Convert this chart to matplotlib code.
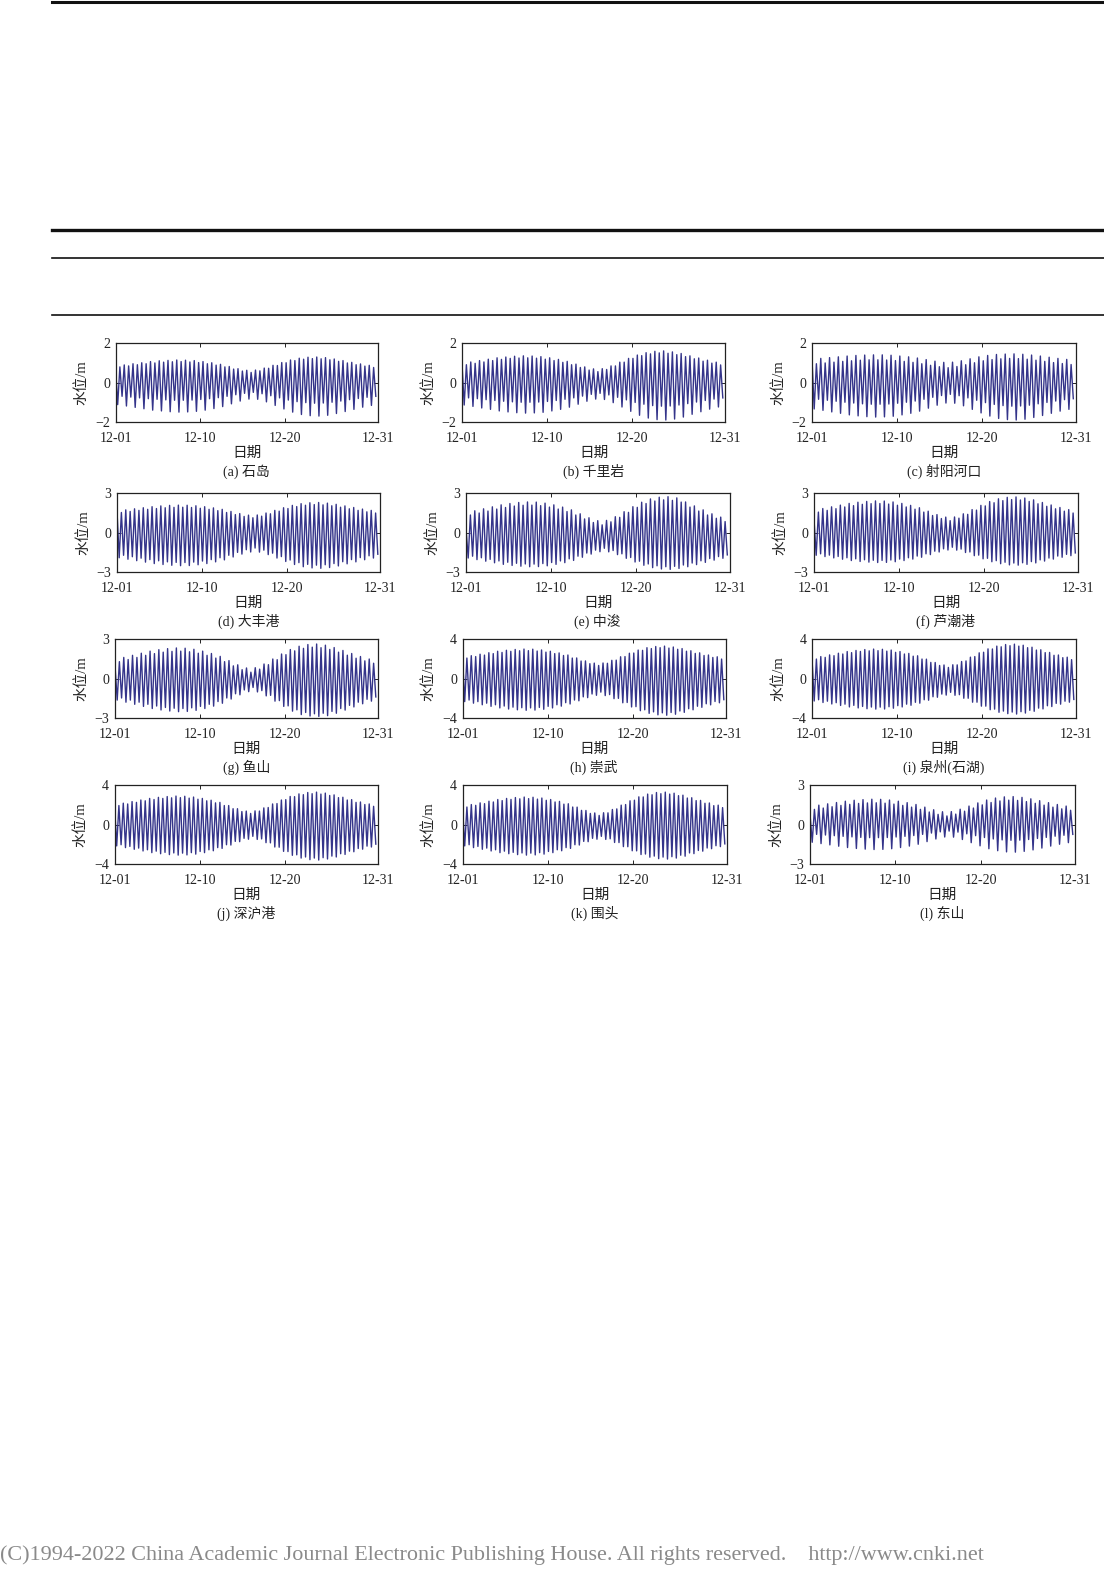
import numpy as np
import matplotlib
matplotlib.use("Agg")
import matplotlib.pyplot as plt
from matplotlib.lines import Line2D

plt.rcParams['font.family'] = ['Liberation Serif', 'Noto Sans CJK SC', 'DejaVu Sans']
plt.rcParams['axes.unicode_minus'] = True

# ---------------- data: successive high / low waters (m), Dec 1-31 ----------------
date_ticks = [0, 10, 20, 31]
date_labels = ['12-01', '12-10', '12-20', '12-31']
n_days = 31

hi_a = [0.84,0.79,0.89,0.84,0.95,0.90,1.00,0.95,1.06,0.99,
        1.10,1.03,1.12,1.05,1.14,1.06,1.13,1.04,1.11,1.01,
        1.06,0.95,1.00,0.88,0.92,0.79,0.81,0.68,0.70,0.58,
        0.62,0.51,0.63,0.59,0.73,0.72,0.87,0.86,1.01,1.00,
        1.14,1.11,1.23,1.18,1.28,1.21,1.29,1.20,1.26,1.15,
        1.19,1.07,1.11,0.99,1.02,0.90,0.94,0.83,0.87,0.76]
lo_a = [-1.12,-0.70,-1.19,-0.74,-1.26,-0.78,-1.33,-0.82,-1.40,-0.85,
        -1.44,-0.88,-1.48,-0.90,-1.50,-0.90,-1.49,-0.89,-1.46,-0.86,
        -1.40,-0.82,-1.32,-0.77,-1.22,-0.70,-1.08,-0.62,-0.94,-0.55,
        -0.84,-0.50,-0.85,-0.57,-0.98,-0.67,-1.16,-0.78,-1.34,-0.89,
        -1.50,-0.97,-1.62,-1.02,-1.68,-1.05,-1.70,-1.04,-1.66,-1.00,
        -1.57,-0.94,-1.47,-0.87,-1.36,-0.81,-1.25,-0.75,-1.16,-0.70]

hi_b = [0.97,0.90,1.04,0.97,1.11,1.04,1.18,1.11,1.25,1.17,
        1.29,1.22,1.33,1.24,1.35,1.25,1.34,1.23,1.31,1.18,
        1.25,1.11,1.17,1.02,1.07,0.90,0.93,0.76,0.79,0.63,
        0.69,0.55,0.70,0.66,0.84,0.84,1.03,1.03,1.22,1.22,
        1.39,1.36,1.51,1.45,1.58,1.50,1.60,1.48,1.55,1.41,
        1.47,1.31,1.35,1.20,1.24,1.08,1.13,0.98,1.03,0.89]
lo_b = [-1.14,-0.78,-1.21,-0.82,-1.29,-0.87,-1.36,-0.91,-1.44,-0.95,
        -1.49,-0.98,-1.53,-1.00,-1.55,-1.00,-1.54,-0.99,-1.51,-0.96,
        -1.44,-0.91,-1.36,-0.85,-1.25,-0.78,-1.10,-0.69,-0.95,-0.60,
        -0.84,-0.55,-0.86,-0.63,-1.02,-0.75,-1.24,-0.88,-1.46,-1.01,
        -1.66,-1.10,-1.80,-1.17,-1.88,-1.20,-1.90,-1.19,-1.85,-1.14,
        -1.75,-1.07,-1.61,-0.99,-1.48,-0.91,-1.35,-0.84,-1.24,-0.78]

hi_c = [1.18,0.95,1.22,0.99,1.26,1.03,1.30,1.07,1.34,1.10,
        1.37,1.13,1.39,1.15,1.40,1.15,1.40,1.14,1.38,1.11,
        1.34,1.07,1.30,1.02,1.24,0.95,1.16,0.87,1.08,0.80,
        1.02,0.75,1.03,0.81,1.10,0.90,1.20,1.00,1.30,1.10,
        1.37,1.16,1.42,1.20,1.44,1.22,1.45,1.21,1.43,1.18,
        1.39,1.13,1.34,1.07,1.28,1.01,1.22,0.96,1.17,0.91]
lo_c = [-1.34,-0.85,-1.41,-0.90,-1.49,-0.95,-1.56,-1.00,-1.64,-1.04,
        -1.69,-1.08,-1.73,-1.10,-1.75,-1.10,-1.74,-1.09,-1.71,-1.05,
        -1.64,-1.00,-1.56,-0.94,-1.45,-0.85,-1.30,-0.75,-1.15,-0.66,
        -1.04,-0.60,-1.05,-0.67,-1.18,-0.78,-1.36,-0.90,-1.54,-1.02,
        -1.70,-1.11,-1.82,-1.17,-1.88,-1.20,-1.90,-1.19,-1.86,-1.15,
        -1.77,-1.08,-1.67,-1.01,-1.56,-0.94,-1.45,-0.87,-1.36,-0.82]

hi_d = [1.64,1.52,1.72,1.60,1.80,1.68,1.88,1.76,1.96,1.82,
        2.02,1.88,2.06,1.91,2.08,1.92,2.07,1.90,2.03,1.84,
        1.96,1.76,1.87,1.66,1.76,1.52,1.60,1.36,1.44,1.22,
        1.32,1.12,1.33,1.24,1.48,1.42,1.68,1.62,1.88,1.82,
        2.06,1.97,2.19,2.07,2.26,2.12,2.28,2.10,2.23,2.03,
        2.14,1.92,2.02,1.80,1.90,1.68,1.78,1.57,1.68,1.48]
lo_d = [-1.92,-1.73,-2.03,-1.84,-2.14,-1.95,-2.25,-2.06,-2.36,-2.15,
        -2.43,-2.23,-2.49,-2.27,-2.52,-2.28,-2.51,-2.25,-2.45,-2.17,
        -2.36,-2.06,-2.23,-1.92,-2.08,-1.73,-1.86,-1.51,-1.64,-1.31,
        -1.48,-1.18,-1.49,-1.34,-1.68,-1.57,-1.94,-1.83,-2.20,-2.09,
        -2.43,-2.29,-2.60,-2.42,-2.69,-2.48,-2.72,-2.45,-2.66,-2.36,
        -2.54,-2.22,-2.38,-2.06,-2.23,-1.91,-2.07,-1.77,-1.94,-1.65]

hi_e = [0.30,1.33,1.65,1.48,1.80,1.63,1.95,1.78,2.10,1.90,
        2.20,2.01,2.28,2.07,2.32,2.08,2.31,2.04,2.23,1.93,
        2.10,1.78,1.93,1.59,1.72,1.33,1.42,1.03,1.12,0.76,
        0.90,0.58,0.92,0.81,1.20,1.15,1.58,1.53,1.96,1.91,
        2.30,2.20,2.55,2.39,2.68,2.48,2.72,2.44,2.63,2.31,
        2.32,1.93,2.02,1.63,1.72,1.33,1.42,1.08,1.17,0.83]
lo_e = [-1.94,-1.80,-2.06,-1.92,-2.18,-2.04,-2.30,-2.16,-2.42,-2.26,
        -2.50,-2.34,-2.56,-2.39,-2.60,-2.40,-2.59,-2.36,-2.53,-2.28,
        -2.42,-2.16,-2.29,-2.00,-2.12,-1.80,-1.88,-1.56,-1.64,-1.34,
        -1.46,-1.20,-1.47,-1.37,-1.68,-1.62,-1.96,-1.90,-2.24,-2.18,
        -2.49,-2.39,-2.67,-2.53,-2.77,-2.60,-2.80,-2.57,-2.73,-2.47,
        -2.60,-2.32,-2.44,-2.15,-2.27,-1.98,-2.10,-1.83,-1.96,-1.70]

hi_f = [1.00,1.55,1.82,1.68,1.95,1.81,2.08,1.94,2.21,2.04,
        2.30,2.14,2.36,2.19,2.40,2.20,2.39,2.16,2.32,2.07,
        2.21,1.94,2.06,1.77,1.88,1.55,1.62,1.29,1.36,1.06,
        1.17,0.90,1.18,1.09,1.42,1.38,1.74,1.70,2.06,2.02,
        2.35,2.26,2.56,2.42,2.67,2.50,2.70,2.47,2.62,2.36,
        2.48,2.18,2.28,1.99,2.09,1.80,1.90,1.62,1.74,1.48]
lo_f = [-1.73,-1.62,-1.83,-1.72,-1.93,-1.82,-2.03,-1.92,-2.13,-2.00,
        -2.20,-2.07,-2.25,-2.11,-2.28,-2.12,-2.27,-2.09,-2.22,-2.02,
        -2.13,-1.92,-2.02,-1.79,-1.88,-1.62,-1.68,-1.42,-1.48,-1.24,
        -1.33,-1.12,-1.34,-1.26,-1.52,-1.48,-1.76,-1.72,-2.00,-1.96,
        -2.22,-2.14,-2.37,-2.26,-2.46,-2.32,-2.48,-2.30,-2.42,-2.21,
        -2.31,-2.08,-2.17,-1.94,-2.02,-1.79,-1.88,-1.66,-1.76,-1.55]

hi_g = [1.00,1.28,1.60,1.44,1.76,1.60,1.92,1.76,2.08,1.89,
        2.19,2.00,2.27,2.06,2.32,2.08,2.30,2.03,2.22,1.92,
        2.08,1.76,1.90,1.55,1.68,1.28,1.36,0.96,1.04,0.67,
        0.80,0.48,0.82,0.71,1.10,1.05,1.48,1.43,1.86,1.81,
        2.20,2.10,2.45,2.29,2.58,2.38,2.62,2.34,2.53,2.21,
        2.35,2.00,2.13,1.77,1.90,1.54,1.67,1.34,1.48,1.16]
lo_g = [-1.64,-1.48,-1.80,-1.64,-1.96,-1.80,-2.12,-1.96,-2.28,-2.09,
        -2.39,-2.20,-2.47,-2.26,-2.52,-2.28,-2.50,-2.23,-2.42,-2.12,
        -2.28,-1.96,-2.10,-1.75,-1.88,-1.48,-1.56,-1.16,-1.24,-0.87,
        -1.00,-0.68,-1.02,-0.92,-1.32,-1.28,-1.72,-1.68,-2.12,-2.08,
        -2.48,-2.38,-2.74,-2.58,-2.85,-2.68,-2.88,-2.64,-2.82,-2.50,
        -2.64,-2.28,-2.40,-2.04,-2.16,-1.80,-1.92,-1.58,-1.72,-1.40]

hi_h = [2.16,2.07,2.31,2.22,2.46,2.37,2.61,2.52,2.76,2.64,
        2.86,2.75,2.94,2.81,2.98,2.82,2.97,2.78,2.89,2.67,
        2.76,2.52,2.59,2.33,2.38,2.07,2.08,1.77,1.78,1.50,
        1.56,1.32,1.57,1.54,1.84,1.86,2.20,2.22,2.56,2.58,
        2.88,2.85,3.12,3.03,3.24,3.12,3.28,3.08,3.19,2.96,
        3.03,2.76,2.81,2.54,2.60,2.33,2.38,2.13,2.20,1.97]
lo_h = [-2.34,-2.18,-2.50,-2.34,-2.66,-2.50,-2.82,-2.66,-2.98,-2.79,
        -3.09,-2.90,-3.17,-2.96,-3.22,-2.98,-3.20,-2.93,-3.12,-2.82,
        -2.98,-2.66,-2.80,-2.45,-2.58,-2.18,-2.26,-1.86,-1.94,-1.57,
        -1.70,-1.38,-1.73,-1.63,-2.04,-2.01,-2.46,-2.43,-2.88,-2.85,
        -3.26,-3.17,-3.53,-3.38,-3.68,-3.48,-3.72,-3.44,-3.62,-3.29,
        -3.43,-3.06,-3.17,-2.81,-2.92,-2.56,-2.67,-2.33,-2.46,-2.14]

hi_i = [2.05,1.97,2.22,2.14,2.39,2.31,2.56,2.48,2.73,2.62,
        2.84,2.74,2.93,2.80,2.98,2.82,2.96,2.77,2.88,2.65,
        2.73,2.48,2.54,2.26,2.30,1.97,1.96,1.63,1.62,1.32,
        1.37,1.12,1.39,1.38,1.72,1.78,2.16,2.22,2.60,2.66,
        3.00,2.99,3.28,3.21,3.44,3.32,3.48,3.28,3.37,3.12,
        3.17,2.88,2.91,2.62,2.64,2.35,2.38,2.11,2.16,1.91]
lo_i = [-2.28,-2.15,-2.43,-2.30,-2.58,-2.45,-2.73,-2.60,-2.88,-2.72,
        -2.98,-2.83,-3.06,-2.89,-3.10,-2.90,-3.09,-2.86,-3.01,-2.75,
        -2.88,-2.60,-2.71,-2.41,-2.50,-2.15,-2.20,-1.85,-1.90,-1.58,
        -1.68,-1.40,-1.70,-1.64,-2.00,-2.00,-2.40,-2.40,-2.80,-2.80,
        -3.16,-3.10,-3.42,-3.30,-3.56,-3.40,-3.60,-3.36,-3.50,-3.22,
        -3.32,-3.00,-3.08,-2.76,-2.84,-2.52,-2.60,-2.30,-2.40,-2.12]

hi_j = [2.00,1.92,2.16,2.08,2.32,2.24,2.48,2.40,2.64,2.53,
        2.75,2.64,2.83,2.70,2.88,2.72,2.86,2.67,2.78,2.56,
        2.64,2.40,2.46,2.19,2.24,1.92,1.92,1.60,1.60,1.31,
        1.36,1.12,1.38,1.36,1.68,1.72,2.08,2.12,2.48,2.52,
        2.84,2.82,3.10,3.02,3.24,3.12,3.28,3.08,3.18,2.94,
        3.00,2.72,2.76,2.48,2.52,2.24,2.28,2.02,2.08,1.84]
lo_j = [-2.17,-2.05,-2.34,-2.22,-2.51,-2.39,-2.68,-2.56,-2.85,-2.70,
        -2.96,-2.82,-3.05,-2.88,-3.10,-2.90,-3.08,-2.85,-3.00,-2.73,
        -2.85,-2.56,-2.66,-2.34,-2.42,-2.05,-2.08,-1.71,-1.74,-1.40,
        -1.49,-1.20,-1.51,-1.46,-1.84,-1.86,-2.28,-2.30,-2.72,-2.74,
        -3.12,-3.07,-3.40,-3.29,-3.56,-3.40,-3.60,-3.36,-3.49,-3.20,
        -3.29,-2.96,-3.03,-2.70,-2.76,-2.43,-2.50,-2.19,-2.28,-1.99]

hi_k = [1.85,1.77,2.02,1.94,2.19,2.11,2.36,2.28,2.53,2.42,
        2.64,2.54,2.73,2.60,2.78,2.62,2.76,2.57,2.68,2.45,
        2.53,2.28,2.34,2.06,2.10,1.77,1.76,1.43,1.42,1.12,
        1.17,0.92,1.19,1.18,1.52,1.58,1.96,2.02,2.40,2.46,
        2.80,2.79,3.08,3.01,3.24,3.12,3.28,3.08,3.17,2.92,
        2.97,2.68,2.71,2.42,2.44,2.15,2.18,1.91,1.96,1.71]
lo_k = [-2.17,-2.05,-2.34,-2.22,-2.51,-2.39,-2.68,-2.56,-2.85,-2.70,
        -2.96,-2.82,-3.05,-2.88,-3.10,-2.90,-3.08,-2.85,-3.00,-2.73,
        -2.85,-2.56,-2.66,-2.34,-2.42,-2.05,-2.08,-1.71,-1.74,-1.40,
        -1.49,-1.20,-1.51,-1.45,-1.82,-1.83,-2.24,-2.25,-2.66,-2.67,
        -3.04,-2.99,-3.31,-3.20,-3.46,-3.30,-3.50,-3.26,-3.40,-3.11,
        -3.21,-2.88,-2.95,-2.63,-2.70,-2.38,-2.45,-2.15,-2.24,-1.96]

hi_l = [0.80,1.15,1.47,1.25,1.57,1.35,1.67,1.45,1.77,1.53,
        1.84,1.60,1.89,1.64,1.92,1.65,1.91,1.62,1.86,1.55,
        1.77,1.45,1.66,1.32,1.52,1.15,1.32,0.95,1.12,0.77,
        0.97,0.65,0.98,0.79,1.16,1.01,1.40,1.25,1.64,1.49,
        1.86,1.67,2.01,1.79,2.10,1.85,2.12,1.83,2.06,1.74,
        1.95,1.61,1.81,1.47,1.66,1.32,1.52,1.19,1.40,1.08]
lo_l = [-1.35,-0.75,-1.45,-0.80,-1.55,-0.85,-1.65,-0.90,-1.75,-0.94,
        -1.82,-0.98,-1.87,-1.00,-1.90,-1.00,-1.89,-0.99,-1.84,-0.95,
        -1.75,-0.90,-1.64,-0.84,-1.50,-0.75,-1.30,-0.65,-1.10,-0.56,
        -0.95,-0.50,-0.96,-0.58,-1.14,-0.71,-1.38,-0.85,-1.62,-0.99,
        -1.84,-1.10,-1.99,-1.17,-2.08,-1.20,-2.10,-1.19,-2.04,-1.14,
        -1.93,-1.06,-1.79,-0.98,-1.64,-0.89,-1.50,-0.82,-1.38,-0.75]

stations = ['(a) 石岛', '(b) 千里岩', '(c) 射阳河口',
            '(d) 大丰港', '(e) 中浚', '(f) 芦潮港',
            '(g) 鱼山', '(h) 崇武', '(i) 泉州(石湖)',
            '(j) 深沪港', '(k) 围头', '(l) 东山']
highs = [hi_a, hi_b, hi_c, hi_d, hi_e, hi_f, hi_g, hi_h, hi_i, hi_j, hi_k, hi_l]
lows = [lo_a, lo_b, lo_c, lo_d, lo_e, lo_f, lo_g, lo_h, lo_i, lo_j, lo_k, lo_l]
y_limits = [2, 2, 2, 3, 3, 3, 3, 4, 4, 4, 4, 3]

# ---------------- layout (pixels of the page) ----------------
W, H = 1104, 1570
row_tb = [(343, 422), (493, 572), (639, 718), (785, 864)]
col_lr = [[(115.5, 378), (462, 725), (812, 1075.5)],
          [(117, 380), (466, 729.5), (814, 1077.5)],
          [(115, 378), (462.5, 726), (812, 1076)],
          [(114.5, 378), (462.5, 727), (810, 1075)]]

line_color = '#34348a'
fig = plt.figure(figsize=(W / 100, H / 100), dpi=100)

# page rules
for y, lw in [(1.5, 2.2), (229.5, 2.4), (258, 1.2), (315, 1.2)]:
    fig.add_artist(Line2D([52 / W, 1.0], [1 - y / H, 1 - y / H], color='#111111',
                          lw=lw, transform=fig.transFigure))

for i in range(12):
    r, c = divmod(i, 3)
    top, bot = row_tb[r]
    left, right = col_lr[r][c]
    ax = fig.add_axes([left / W, 1 - bot / H, (right - left) / W, (bot - top) / H])
    hv = np.asarray(highs[i])
    lv = np.asarray(lows[i])
    n = len(hv)
    step = n_days / n
    t = np.empty(2 * n)
    t[0::2] = np.arange(n) * step
    t[1::2] = (np.arange(n) + 0.5) * step
    yv = np.empty(2 * n)
    yv[0::2] = hv
    yv[1::2] = lv
    ax.plot(t, yv, color=line_color, lw=1.0)
    lim = y_limits[i]
    ax.set_xlim(0, n_days)
    ax.set_ylim(-lim, lim)
    ax.set_xticks(date_ticks)
    ax.set_xticklabels(date_labels)
    ax.set_yticks([-lim, 0, lim])
    ax.tick_params(direction='in', top=True, right=True, length=3, width=0.7,
                   labelsize=10, colors='#222222')
    ax.tick_params(axis='x', pad=7.5)
    ax.tick_params(axis='y', pad=4)
    for s in ax.spines.values():
        s.set_linewidth(0.9)
        s.set_color('#222222')
    ax.set_ylabel('水位/m', fontsize=10.5, color='#222222')
    ax.yaxis.set_label_coords(-27 / (right - left), 0.5)
    ax.annotate('日期', xy=(0.5, 0), xycoords='axes fraction', xytext=(0, -31.5 * 0.72),
                textcoords='offset points', ha='center', va='center', fontsize=10.5,
                color='#222222')
    ax.annotate(stations[i], xy=(0.5, 0), xycoords='axes fraction', xytext=(0, -49.5 * 0.72),
                textcoords='offset points', ha='center', va='center', fontsize=10,
                color='#222222')

fig.text(0.0, 1 - 1555 / H, '(C)1994-2022 China Academic Journal Electronic Publishing House. '
         'All rights reserved.    http://www.cnki.net', ha='left', va='center',
         fontsize=15.95, color='#8a8a8a', family='Liberation Serif')

fig.savefig('out.png', dpi=100, facecolor='white')
